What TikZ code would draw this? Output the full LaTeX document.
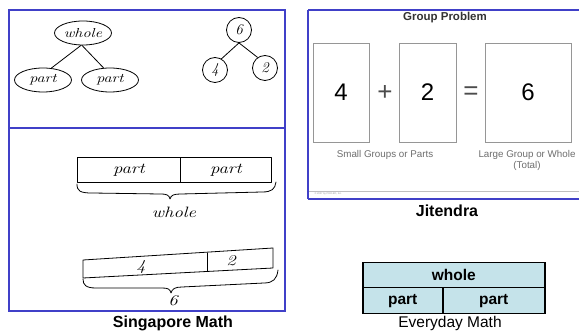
\documentclass[tikz,border=0pt]{standalone}
\usepackage{fontspec}
\setmainfont{Latin Modern Roman}
\newfontfamily\arialfont{Liberation Sans}
\usetikzlibrary{shapes.geometric}
\definecolor{frameblue}{RGB}{64,64,200}
\definecolor{emfill}{RGB}{197,227,234}
\definecolor{cardgray}{RGB}{150,150,150}
\definecolor{textgray}{RGB}{110,110,110}
\newcommand{\hw}[1]{\scalebox{1.25}[1]{#1}}
\tikzset{
  panel/.style={draw=frameblue,line width=1.6pt},
  hand/.style={draw=black,line width=0.8pt,line cap=round,line join=round},
  handtxt/.style={font=\itshape\fontsize{15}{15}\selectfont,inner sep=1pt},
  oval/.style={ellipse,draw=black,line width=0.8pt,minimum width=57pt,minimum height=24pt,inner sep=0pt,font=\itshape\fontsize{13}{13}\selectfont},
  numcirc/.style={circle,draw=black,line width=0.8pt,minimum size=25pt,inner sep=0pt,font=\itshape\fontsize{15}{15}\selectfont},
  caption/.style={font=\arialfont\bfseries\fontsize{16}{16}\selectfont},
  card/.style={draw=cardgray,line width=0.8pt,inner sep=0pt},
  cardnum/.style={font=\arialfont\fontsize{24}{24}\selectfont},
  cardlbl/.style={font=\arialfont\fontsize{9.8}{11}\selectfont,text=textgray,align=center},
  emcell/.style={draw=black,line width=1.5pt,fill=emfill,inner sep=0pt,anchor=north west,font=\arialfont\bfseries\fontsize{15.5}{15.5}\selectfont}
}
\begin{document}
\begin{tikzpicture}[x=1pt,y=-1pt]
\useasboundingbox (0,0) rectangle (579,331);
\fill[white] (0,0) rectangle (579,331);
% ---- Singapore Math panel
\draw[panel] (9,10) rectangle (285,311);
\draw[panel] (9,128) -- (285,128);
\node[oval] (wh) at (83,33) {\hw{whole}};
\node[oval] (pl) at (43,80) {\hw{part}};
\node[oval] (pr) at (110,80) {\hw{part}};
\draw[hand] ([xshift=-2pt]wh.south) -- (pl.55);
\draw[hand] ([xshift=-1pt]wh.south) -- (pr.118);
\node[numcirc] (six) at (239,30) {6};
\node[numcirc] (four) at (215,70) {4};
\node[numcirc] (two) at (265,68) {2};
\draw[hand] (six.south) -- (four.60);
\draw[hand] (six.south) -- (two.125);
% part | part bar
\node[hand,draw,minimum width=103pt,minimum height=25pt,inner sep=0pt,anchor=north west,handtxt] (pa) at (77,157) {\hw{part}};
\node[hand,draw,minimum width=91pt,minimum height=25pt,inner sep=0pt,anchor=north west,handtxt] (pb) at (180,157) {\hw{part}};
\draw[hand] (77,184) .. controls (77,191) and (80,193) .. (92,193) -- (160,194)
  .. controls (167,194) and (169,195) .. (170,199)
  .. controls (171,195) and (174,194) .. (181,194) -- (262,192)
  .. controls (272,192) and (275,189) .. (276,182);
\node[handtxt] (lwhole) at (174,212) {\hw{whole}};
% 4 | 2 bar (hand drawn, slightly slanted)
\coordinate (b1) at (83,260);
\coordinate (b2) at (273,248);
\coordinate (b3) at (273,268);
\coordinate (b4) at (83,278);
\coordinate (d1) at (207,253);
\coordinate (d2) at (207,271);
\draw[hand] (b1) -- (b2) -- (b3) -- (b4) -- cycle;
\draw[hand] (d1) -- (d2);
\node[handtxt] (n4) at (141,267) {\hw{4}};
\node[handtxt] (n2) at (231,261) {\hw{2}};
\draw[hand] (83,279) .. controls (83,285) and (86,288) .. (96,288) -- (162,288)
  .. controls (168,288) and (170,289) .. (171,293)
  .. controls (172,289) and (175,287) .. (182,287) -- (264,283)
  .. controls (273,283) and (277,279) .. (278,270);
\node[handtxt] (lsix) at (173,301) {\hw{6}};
\node[caption] (cap1) at (173,323) {Singapore Math};
% ---- Jitendra panel
\draw[panel] (308,10) -- (582,10);
\draw[panel] (308,10) -- (308,199);
\draw[panel] (308,199) -- (582,199);
\node[font=\arialfont\bfseries\fontsize{11.5}{11.5}\selectfont,text=black!80] (gp) at (445,18) {Group Problem};
\node[card,minimum width=56pt,minimum height=99pt] (c1) at (341,92.5) {};
\node[cardnum] (n1) at (c1) {4};
\node[card,minimum width=57pt,minimum height=99pt] (c2) at (427.5,92.5) {};
\node[cardnum] (nn2) at (c2) {2};
\node[card,minimum width=86pt,minimum height=99pt] (c3) at (528,92.5) {};
\node[cardnum] (n3) at (c3) {6};
\node[font=\arialfont\fontsize{26}{26}\selectfont,text=black!70] (plus) at (385,93) {+};
\node[font=\arialfont\fontsize{26}{26}\selectfont,text=black!70] (eq) at (471,93) {=};
\node[cardlbl] (l1) at (385,155) {Small Groups or Parts};
\node[cardlbl] (l2) at (527,160.5) {Large Group or Whole\\(Total)};
\draw[black!25,line width=0.6pt] (309,191) -- (579,191);
\node[font=\arialfont\fontsize{2.5}{3}\selectfont,text=black!40,anchor=west] (copy) at (311,194) {\textcopyright\ 2007 by PRO-ED, Inc.};
\node[caption] (cap2) at (447,211) {Jitendra};
% ---- Everyday Math
\node[emcell,minimum width=182pt,minimum height=25pt] (ew) at (362,262) {whole};
\node[emcell,minimum width=80pt,minimum height=26pt] (ep1) at (362,287) {part};
\node[emcell,minimum width=102pt,minimum height=26pt] (ep2) at (442,287) {part};
\node[font=\arialfont\fontsize{15.5}{15.5}\selectfont,anchor=base,inner sep=0pt] (cap3) at (450,327.5) {Everyday Math};
\end{tikzpicture}
\end{document}
